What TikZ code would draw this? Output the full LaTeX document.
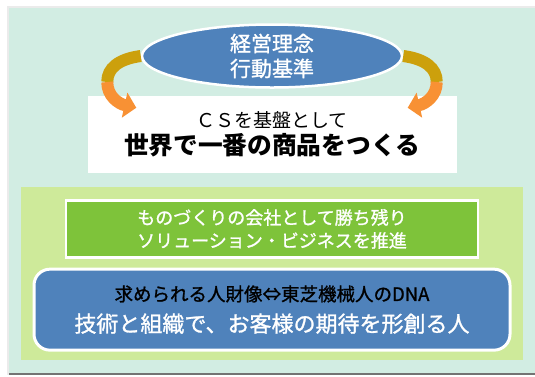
\documentclass[tikz,border=0pt]{standalone}
\usepackage{fontspec}
\setmainfont{Noto Sans CJK JP}
\newfontfamily\medfont[FakeBold=1.2]{Noto Sans CJK JP}
\usepackage{xcolor}
\usepackage{tikz}
\usetikzlibrary{arrows.meta, positioning, shapes.geometric, calc}

\definecolor{mint}{RGB}{210,237,227}
\definecolor{leaf}{RGB}{206,234,154}
\definecolor{grass}{RGB}{126,195,58}
\definecolor{steel}{RGB}{79,130,187}
\definecolor{amber}{RGB}{204,160,12}
\definecolor{tangerine}{RGB}{248,145,52}

\begin{document}
\begin{tikzpicture}[
        x=1pt, y=-1pt,
        node distance=8pt,
        oval/.style={ellipse, draw=white, line width=2.5pt, fill=steel, text=white, align=center, inner sep=0pt, minimum width=260pt, minimum height=63pt, font=\medfont\fontsize{21}{25}\selectfont},
        plain/.style={rectangle, fill=white, align=center, inner sep=0pt, minimum width=369pt, minimum height=77pt, font=\fontsize{19}{27}\selectfont},
        grassbox/.style={rectangle, draw=white, line width=2.5pt, fill=grass, text=white, align=center, inner sep=0pt, minimum width=412pt, minimum height=57pt, font=\medfont\fontsize{18}{23}\selectfont},
        steelbox/.style={rectangle, rounded corners=16pt, draw=white, line width=3pt, fill=steel, align=center, inner sep=0pt, minimum width=476pt, minimum height=81pt, font=\medfont\fontsize{18.5}{31}\selectfont},
        band/.style={line width=12pt},
        arrow/.style={band, -{Triangle[length=12pt, width=25pt]}}
    ]
        \useasboundingbox (0,0) rectangle (535,376);
        % panels
        \fill[black!8] (7,6) rectangle (535,375);
        \fill[black!55] (9,9) rectangle (535,374.5);
        \fill[mint] (9,8) rectangle (535,373);
        \fill[leaf] (21,187) rectangle (523,360);

        \node[oval] (creed) at (272,56) {経営理念\\行動基準};
        \node[plain, below=7pt of creed] (goal) {ＣＳを基盤として\\{\bfseries\fontsize{24.7}{27}\selectfont 世界で一番の商品をつくる}};
        \node[grassbox, below=26pt of goal] (craft) {ものづくりの会社として勝ち残り\\ソリューション・ビジネスを推進};
        \node[steelbox, below=9pt of craft] (people) {{\color{black}求められる人財像⇔東芝機械人のDNA}\\{\color{white}\fontsize{22}{31}\selectfont 技術と組織で、お客様の期待を形創る人}};

        % curved arrows
        \coordinate (lturn) at ($(creed.west)+(-33.5,26)$);
        \coordinate (rturn) at ($(creed.east)+(33.5,26)$);
        \draw[band, amber] (creed.west) .. controls +(-22,3) and +(0,-14) .. (lturn);
        \draw[arrow, tangerine] (lturn) .. controls +(0,14) and +(-18,-4) .. ($(goal.north west)+(49,12)$);
        \draw[band, amber] (creed.east) .. controls +(22,3) and +(0,-14) .. (rturn);
        \draw[arrow, tangerine] (rturn) .. controls +(0,14) and +(18,-4) .. ($(goal.north east)+(-49,12)$);
    \end{tikzpicture}
\end{document}
